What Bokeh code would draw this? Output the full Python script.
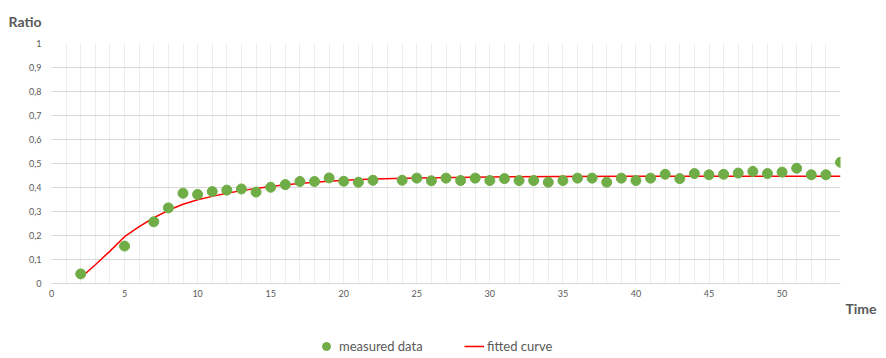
from bokeh.plotting import figure
from bokeh.layouts import column
from bokeh.models import (FixedTicker, CustomJSTickFormatter, Title, Legend, LegendItem,
                          Range1d)
from bokeh.embed import file_html
from bokeh.resources import INLINE

# measured data
time_measured = [2, 5, 7, 8, 9, 10, 11, 12, 13, 14, 15, 16, 17, 18, 19, 20, 21, 22,
                 24, 25, 26, 27, 28, 29, 30, 31, 32, 33, 34, 35, 36, 37, 38, 39, 40,
                 41, 42, 43, 44, 45, 46, 47, 48, 49, 50, 51, 52, 53, 54]
ratio_measured = [0.040, 0.156, 0.257, 0.315, 0.376, 0.371, 0.383, 0.389, 0.394, 0.381,
                  0.401, 0.412, 0.425, 0.425, 0.440, 0.426, 0.422, 0.430,
                  0.430, 0.439, 0.428, 0.439, 0.429, 0.439, 0.429, 0.437, 0.429, 0.429,
                  0.422, 0.429, 0.439, 0.439, 0.422, 0.439, 0.429,
                  0.439, 0.455, 0.437, 0.458, 0.453, 0.455, 0.460, 0.467, 0.458, 0.464,
                  0.480, 0.453, 0.453, 0.505]

# fitted curve
time_fit = [2, 3, 4, 5, 6, 7, 8, 9, 10, 11, 12, 13, 14, 15, 16, 17, 18, 20, 22, 25,
            30, 35, 40, 45, 50, 54]
ratio_fit = [0.024, 0.078, 0.135, 0.195, 0.237, 0.274, 0.305, 0.330, 0.349, 0.363,
             0.376, 0.387, 0.396, 0.404, 0.411, 0.417, 0.422, 0.430, 0.435, 0.440,
             0.444, 0.446, 0.447, 0.447, 0.447, 0.447]

x_ticks = [0, 5, 10, 15, 20, 25, 30, 35, 40, 45, 50]
y_ticks = [0, 0.1, 0.2, 0.3, 0.4, 0.5, 0.6, 0.7, 0.8, 0.9, 1]
y_tick_labels = ["0", "0,1", "0,2", "0,3", "0,4", "0,5", "0,6", "0,7", "0,8", "0,9", "1"]
x_grid_ticks = list(range(0, 55))

FONT = "Lato"
GREY = "#595959"
GREEN = "#70ad47"
RED = "#ff0000"

p = figure(frame_width=789, frame_height=240, x_range=(0, 54), y_range=(0, 1),
           output_backend="svg", toolbar_location=None,
           min_border_left=51, min_border_right=38, min_border_top=43,
           min_border_bottom=40)
p.outline_line_color = None
p.background_fill_color = "white"
p.border_fill_color = "white"

# grids
p.ygrid.ticker = FixedTicker(ticks=y_ticks)
p.ygrid.grid_line_color = "#d9d9d9"
p.ygrid.grid_line_width = 1
p.xgrid.ticker = FixedTicker(ticks=x_grid_ticks)
p.xgrid.grid_line_color = "#ededed"
p.xgrid.grid_line_width = 1

# axes
p.xaxis.ticker = FixedTicker(ticks=x_ticks)
p.yaxis.ticker = FixedTicker(ticks=y_ticks)
p.yaxis.formatter = CustomJSTickFormatter(
    args=dict(tv=y_ticks, tl=y_tick_labels),
    code="""
    let best = 0, bd = 1e9;
    for (let i = 0; i < tv.length; i++) {
        const d = Math.abs(tv[i] - tick);
        if (d < bd) { bd = d; best = i; }
    }
    return tl[best];
    """)
for ax in (p.xaxis, p.yaxis):
    ax.major_tick_line_color = None
    ax.minor_tick_line_color = None
    ax.major_tick_out = 0
    ax.major_tick_in = 0
    ax.minor_tick_out = 0
    ax.minor_tick_in = 0
    ax.major_label_text_color = GREY
    ax.major_label_text_font = FONT
    ax.major_label_text_font_size = "9px"
p.yaxis.axis_line_color = None
p.xaxis.axis_line_color = "#d9d9d9"
p.yaxis.major_label_standoff = 10
p.xaxis.major_label_standoff = 6

# glyphs
p.line(time_fit, ratio_fit, line_color=RED, line_width=1.5)
p.scatter(time_measured, ratio_measured, size=10, fill_color=GREEN, line_color=GREEN)

# titles
p.title = Title(text="Ratio", align="left", offset=-43, vertical_align="top",
                standoff=24, text_font=FONT, text_font_style="bold",
                text_font_size="14px", text_color=GREY)
p.add_layout(Title(text="Time", align="right", offset=-36, vertical_align="top",
                   standoff=0, text_font=FONT, text_font_style="bold",
                   text_font_size="14px", text_color=GREY), "below")

# legend strip (same series, drawn out of view; only the legend is visible)
f = figure(width=878, height=33, x_range=Range1d(1000, 1001),
           y_range=Range1d(1000, 1001), output_backend="svg", toolbar_location=None,
           x_axis_type=None, y_axis_type=None,
           min_border_left=0, min_border_right=0, min_border_top=0,
           min_border_bottom=0)
f.outline_line_color = None
f.xgrid.visible = False
f.ygrid.visible = False
f.background_fill_color = "white"
f.border_fill_color = "white"
pts_l = f.scatter(time_measured, ratio_measured, size=10, fill_color=GREEN,
                  line_color=GREEN)
line_l = f.line(time_fit, ratio_fit, line_color=RED, line_width=1.5)

legend = Legend(items=[LegendItem(label="measured data", renderers=[pts_l]),
                       LegendItem(label="fitted curve", renderers=[line_l])],
                location=(265, 0), orientation="horizontal",
                padding=0, margin=0, spacing=37, label_standoff=3,
                label_width=88, glyph_width=20, glyph_height=20,
                label_text_font=FONT, label_text_font_size="13px",
                label_text_color=GREY, border_line_color=None,
                background_fill_alpha=0)
f.add_layout(legend)

layout = column(p, f, spacing=0)
open("out.html", "w").write(file_html(layout, INLINE))
